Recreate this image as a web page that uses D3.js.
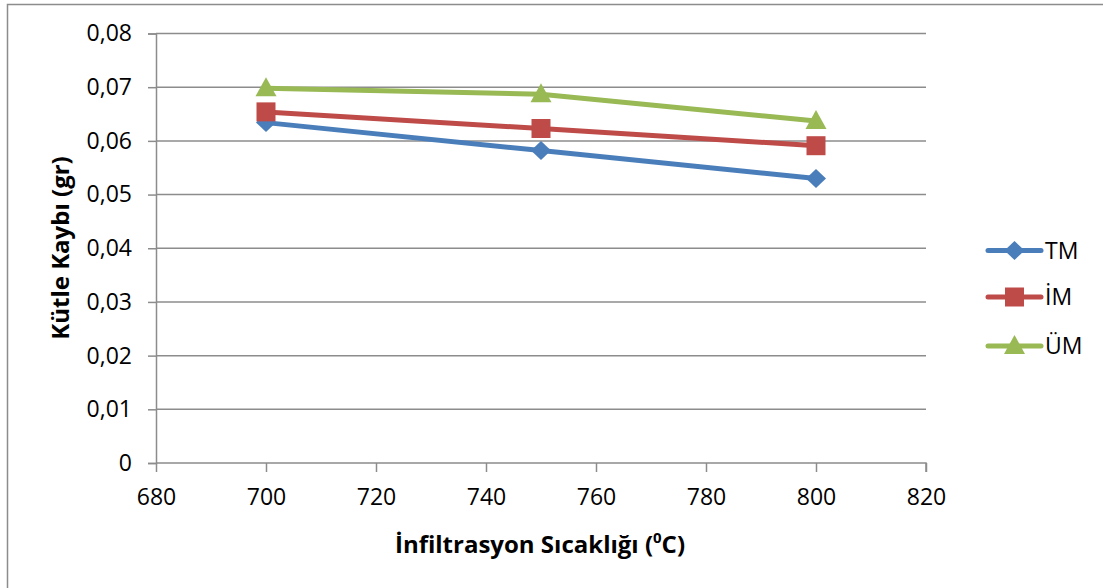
<!DOCTYPE html>
<html><head><meta charset="utf-8">
<script src="https://cdn.jsdelivr.net/npm/d3@7"></script>
<style>
html,body{margin:0;padding:0;background:#fff;overflow:hidden;}
svg{display:block;}
text{font-family:"Open Sans",sans-serif;fill:#000;}
</style></head>
<body>
<svg id="chart" width="1103" height="588"></svg>
<script>
const temperatures = [700, 750, 800];
const seriesNames = ["TM", "İM", "ÜM"];
const tmValues = [0.0634, 0.0582, 0.0530];
const imValues = [0.0654, 0.0623, 0.0591];
const umValues = [0.0698, 0.0687, 0.0637];
const xTicks = [680, 700, 720, 740, 760, 780, 800, 820];
const yTicks = [0, 0.01, 0.02, 0.03, 0.04, 0.05, 0.06, 0.07, 0.08];
const xTitle = "İnfiltrasyon Sıcaklığı (";
const yTitle = "Kütle Kaybı (gr)";

const colors = ["#4A7EBB", "#BE4B48", "#98B954"];
const diamond = { draw(c) { c.moveTo(0, -9.5); c.lineTo(10, 0); c.lineTo(0, 9.5); c.lineTo(-10, 0); c.closePath(); } };
const square = { draw(c) { c.rect(-9.5, -9.5, 19, 19); } };
const triangle = { draw(c) { c.moveTo(0, -11); c.lineTo(10.5, 8); c.lineTo(-10.5, 8); c.closePath(); } };
const symbols = [diamond, square, triangle];
const allValues = [tmValues, imValues, umValues];
const FS = 23;

const svg = d3.select("#chart");
svg.append("rect").attr("x", 7.5).attr("y", 4.5).attr("width", 1200).attr("height", 700)
  .attr("fill", "none").attr("stroke", "#8c8c8c").attr("stroke-width", 1.5);

const x = d3.scaleLinear().domain([680, 820]).range([156, 926]);
const y = d3.scaleLinear().domain([0, 0.08]).range([463, 33.5]);
const fmt = d => d === 0 ? "0" : d3.format(".2f")(d).replace(".", ",");

svg.append("g").selectAll("line").data(yTicks.filter(d => d > 0)).join("line")
  .attr("x1", x(680)).attr("x2", x(820))
  .attr("y1", d => y(d)).attr("y2", d => y(d))
  .attr("stroke", "#8c8c8c").attr("stroke-width", 1.5);

const yAxis = svg.append("g").attr("transform", `translate(${x(680)},0)`)
  .call(d3.axisLeft(y).tickValues(yTicks).tickFormat(fmt).tickSize(8).tickPadding(16));
const xAxis = svg.append("g").attr("transform", `translate(0,${y(0)})`)
  .call(d3.axisBottom(x).tickValues(xTicks).tickFormat(d3.format("d")).tickSize(9).tickPadding(17));
[yAxis, xAxis].forEach(a => {
  a.select(".domain").attr("stroke", "#8c8c8c").attr("stroke-width", 1.5);
  a.selectAll(".tick line").attr("stroke", "#8c8c8c").attr("stroke-width", 1.5);
  a.selectAll(".tick text").attr("font-family", "Open Sans").attr("font-size", FS).attr("fill", "#000");
});
xAxis.select(".domain").attr("d", `M${x(680)},0H${x(820)}V9`);

const line = d3.line().x((d, i) => x(temperatures[i])).y(d => y(d));
allValues.forEach((vals, s) => {
  svg.append("path").datum(vals).attr("d", line).attr("fill", "none")
    .attr("stroke", colors[s]).attr("stroke-width", 5).attr("stroke-linejoin", "round");
});
allValues.forEach((vals, s) => {
  svg.append("g").selectAll("path").data(vals).join("path")
    .attr("transform", (d, i) => `translate(${x(temperatures[i])},${y(d)})`)
    .attr("d", d3.symbol().type(symbols[s]))
    .attr("fill", colors[s]);
});

const legY = [250.5, 297, 346];
seriesNames.forEach((name, s) => {
  const g = svg.append("g").attr("transform", `translate(0,${legY[s]})`);
  g.append("line").attr("x1", 988).attr("x2", 1041).attr("y1", 0).attr("y2", 0)
    .attr("stroke", colors[s]).attr("stroke-width", 5).attr("stroke-linecap", "round");
  g.append("path").attr("transform", `translate(1014.5,0)`)
    .attr("d", d3.symbol().type(symbols[s])).attr("fill", colors[s]);
  g.append("text").attr("x", 1045).attr("y", 0).attr("dy", "0.36em")
    .attr("font-size", FS).text(name);
});

const xt = svg.append("text").attr("x", 540).attr("y", 553).attr("text-anchor", "middle")
  .attr("font-size", 24).attr("font-weight", "bold");
xt.append("tspan").text(xTitle);
xt.append("tspan").attr("font-size", 15).attr("dy", -10).text("0");
xt.append("tspan").attr("dy", 10).text("C)");

svg.append("text").attr("transform", `translate(69,248) rotate(-90)`)
  .attr("text-anchor", "middle").attr("font-size", 24).attr("font-weight", "bold").text(yTitle);
</script>
</body></html>
